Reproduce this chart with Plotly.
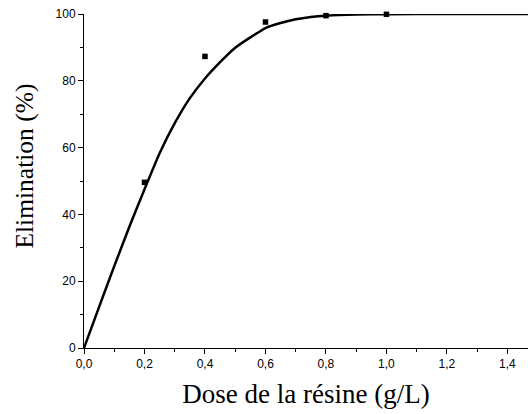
import plotly.graph_objects as go

# Measured data
dose = [0.2, 0.4, 0.6, 0.8, 1.0]
elimination = [49.6, 87.3, 97.6, 99.5, 99.9]

# Fitted curve
fit_x = [0, 0.05, 0.10, 0.15, 0.20, 0.25, 0.30, 0.35, 0.40, 0.45, 0.50, 0.55, 0.60, 0.65,
         0.70, 0.75, 0.80, 0.90, 1.0, 1.2, 1.47]
fit_y = [0, 12.3, 24.5, 36.3, 47.5, 58.3, 67.3, 74.8, 80.7, 85.6, 89.9, 93.0, 95.8, 97.3,
         98.4, 99.1, 99.5, 99.85, 99.95, 100, 100]

x_tickvals = [0, 0.2, 0.4, 0.6, 0.8, 1.0, 1.2, 1.4]
x_ticktext = ["0,0", "0,2", "0,4", "0,6", "0,8", "1,0", "1,2", "1,4"]
y_tickvals = [0, 20, 40, 60, 80, 100]
y_ticktext = ["0", "20", "40", "60", "80", "100"]

fig = go.Figure()
fig.add_trace(go.Scatter(x=fit_x, y=fit_y, mode="lines",
                         line=dict(color="black", width=2.5, shape="spline", smoothing=0.5),
                         showlegend=False, cliponaxis=False))
fig.add_trace(go.Scatter(x=dose, y=elimination, mode="markers",
                         marker=dict(symbol="square", size=5.5, color="black"),
                         showlegend=False, cliponaxis=False))

fig.update_layout(
    width=528, height=414,
    margin=dict(l=84, r=0, t=14, b=66),
    paper_bgcolor="white", plot_bgcolor="white",
    xaxis=dict(range=[0, 1.468], showline=True, linecolor="black", linewidth=1,
               tickvals=x_tickvals, ticktext=x_ticktext, ticks="outside", ticklen=5,
               tickcolor="black", showgrid=False, zeroline=False,
               tickfont=dict(family="Liberation Sans, Arial", size=12, color="black"),
               minor=dict(tickvals=[0.1, 0.3, 0.5, 0.7, 0.9, 1.1, 1.3], ticks="outside", ticklen=3, tickcolor="black"),
               title=dict(text="Dose de la résine (g/L)", standoff=13,
                          font=dict(family="Liberation Serif, Times New Roman", size=27, color="black"))),
    yaxis=dict(range=[0, 100], showline=True, linecolor="black", linewidth=1,
               tickvals=y_tickvals, ticktext=y_ticktext, ticks="outside", ticklen=5,
               tickcolor="black", showgrid=False, zeroline=False,
               tickfont=dict(family="Liberation Sans, Arial", size=12, color="black"),
               minor=dict(tickvals=[10, 30, 50, 70, 90], ticks="outside", ticklen=3, tickcolor="black")),
    annotations=[dict(text="Elimination (%)", textangle=-90, xref="paper", yref="paper",
                      x=-0.133, y=0.546, xanchor="center", yanchor="middle", showarrow=False,
                      font=dict(family="Liberation Serif, Times New Roman", size=25.5, color="black"))],
)

fig.write_html("out.html")
